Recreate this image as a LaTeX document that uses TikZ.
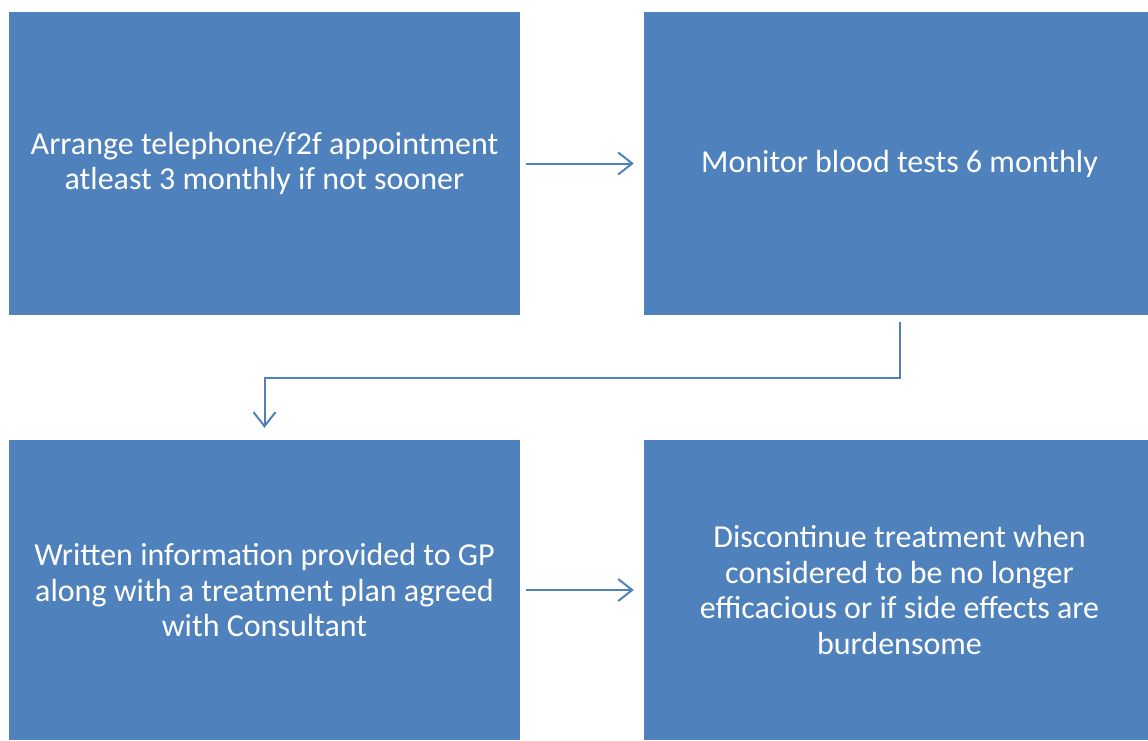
\documentclass[tikz,border=0pt]{standalone}
\usepackage{fontspec}
\setmainfont{Carlito}
\usetikzlibrary{arrows.meta}

\definecolor{boxblue}{HTML}{4F81BD}

\begin{document}
\begin{tikzpicture}[x=1pt,y=-1pt,
  stepbox/.style={rectangle, fill=boxblue, draw=none, inner sep=0pt,
    text=white, align=center, font=\fontsize{32}{35.5}\selectfont,
    minimum width=511pt},
  link/.style={draw=boxblue, line width=2pt,
    -{Straight Barb[length=14pt,width=22pt,line width=2pt]}}]

\useasboundingbox (0,0) rectangle (1148,740);

% boxes
\node[stepbox, minimum height=303pt] (arrange) at (264.5,163.5)
  {Arrange telephone/f2f appointment\\atleast 3 monthly if not sooner};
\node[stepbox, minimum height=303pt] (monitor) at (899.5,163.5)
  {Monitor blood tests 6 monthly};
\node[stepbox, minimum height=300pt] (written) at (264.5,590)
  {Written information provided to GP\\along with a treatment plan agreed\\with Consultant};
\node[stepbox, minimum height=300pt] (discont) at (899.5,590)
  {Discontinue treatment when\\considered to be no longer\\efficacious or if side effects are\\burdensome};

% arrows
\draw[link, shorten <=6pt, shorten >=10pt] (arrange) -- (monitor);
\draw[link, shorten <=7pt, shorten >=12pt] (monitor.south) -- ++(0,63) -| (written.north);
\draw[link, shorten <=6pt, shorten >=10pt] (written) -- (discont);

\end{tikzpicture}
\end{document}
